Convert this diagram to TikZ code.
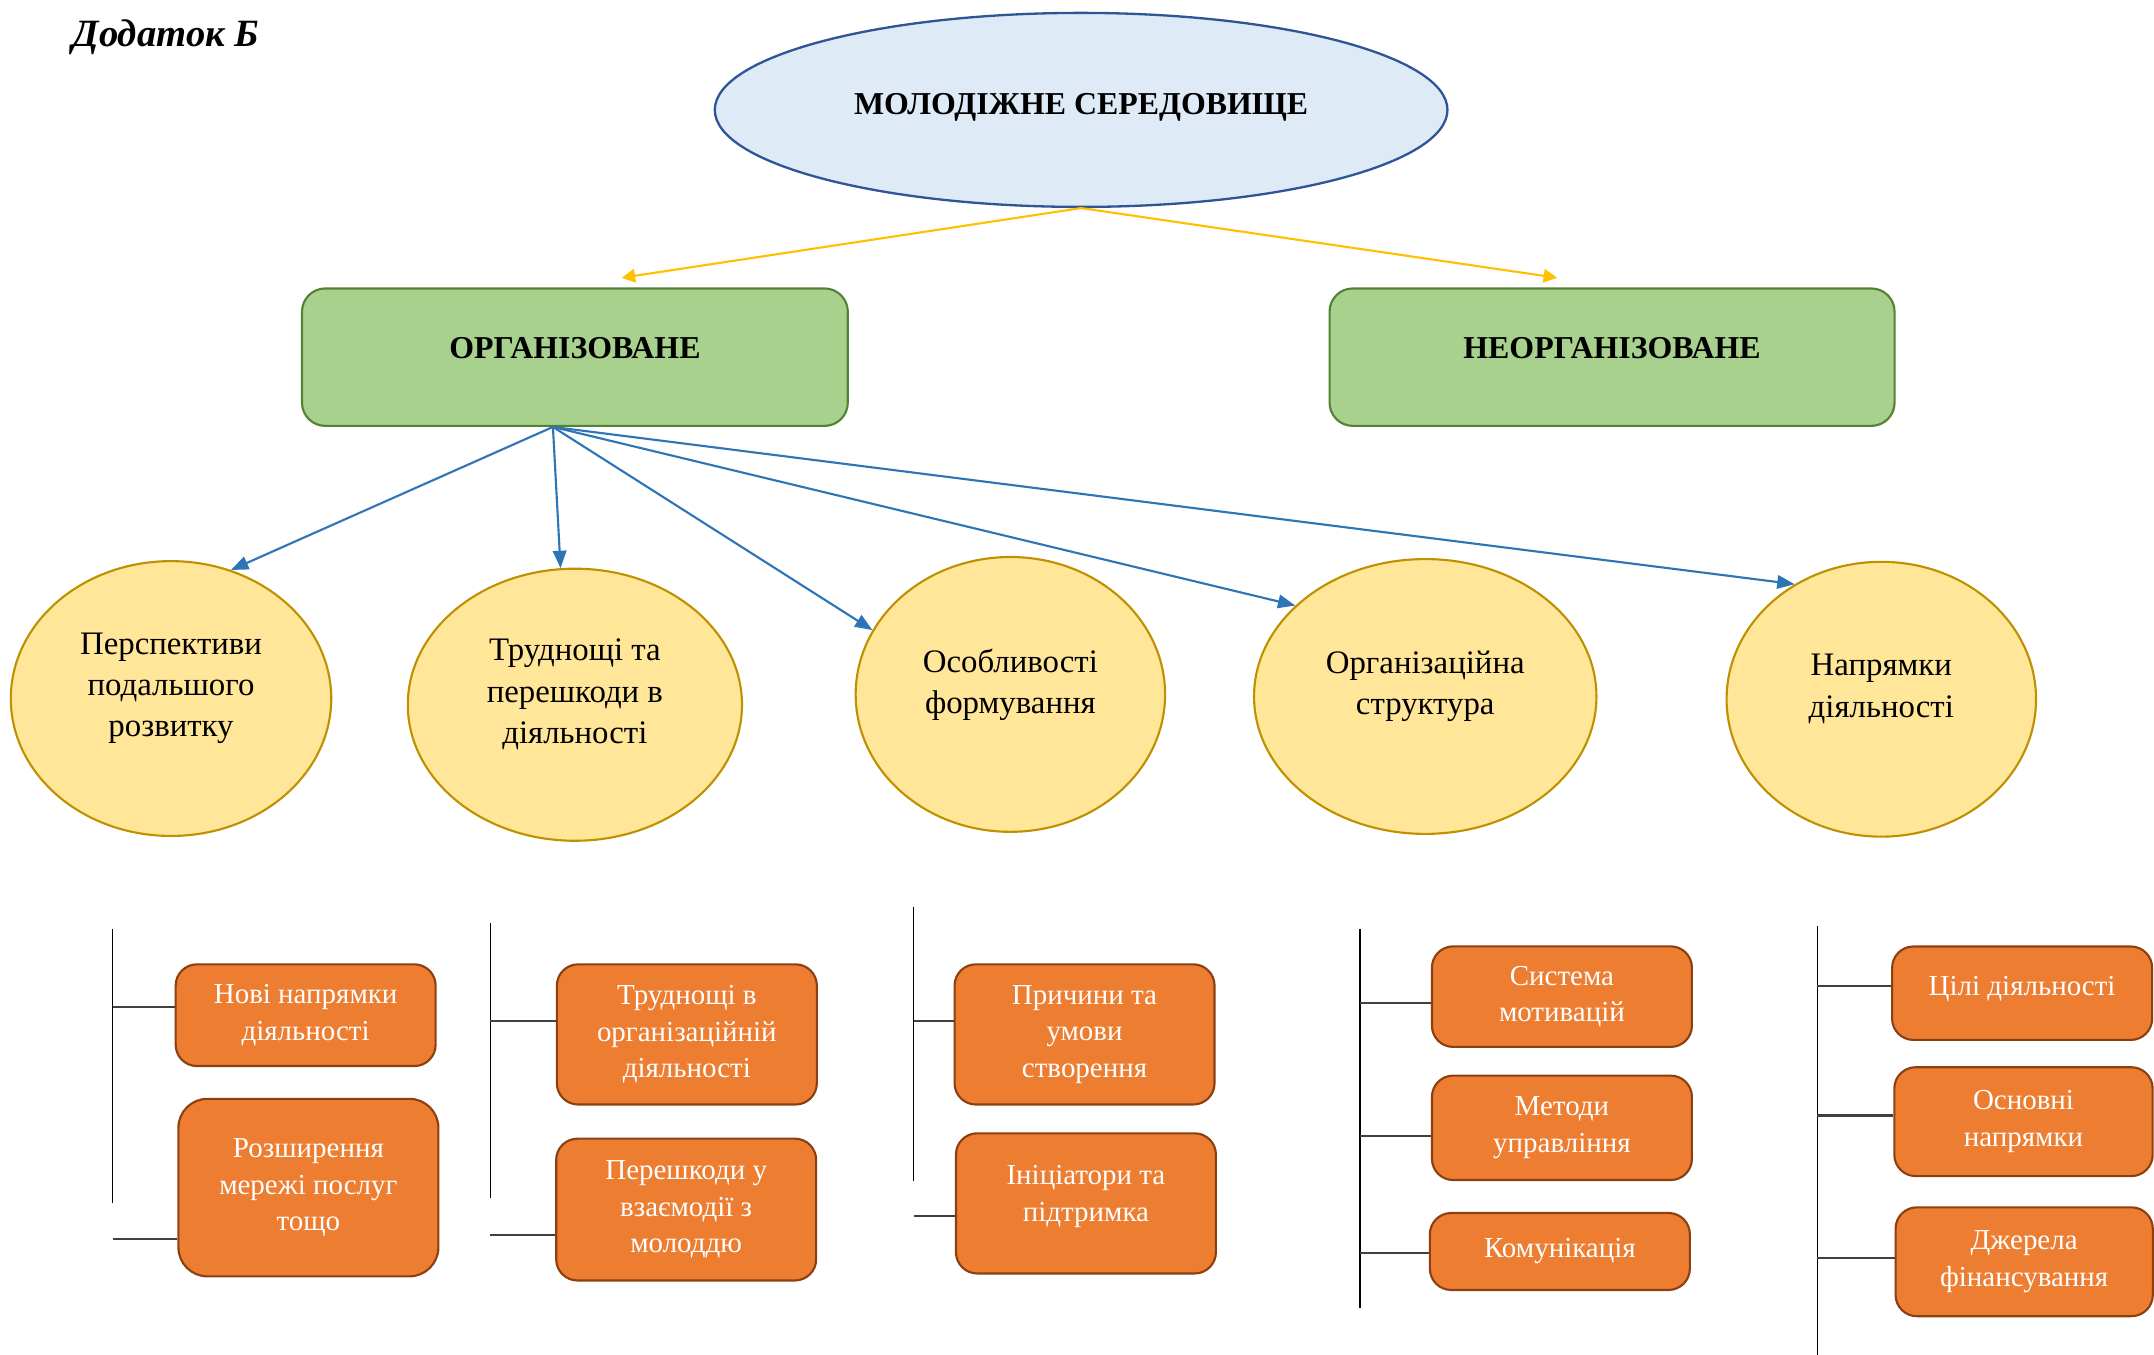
\documentclass[tikz,border=0pt]{standalone}
\usepackage{fontspec}
\setmainfont{Liberation Serif}
\usepackage{tikz}
\usetikzlibrary{shapes,arrows.meta,positioning,calc}
\usepackage{xcolor}
\definecolor{paleblue}{RGB}{222,235,247}
\definecolor{darkblue}{RGB}{47,85,151}
\definecolor{leafgreen}{RGB}{169,209,142}
\definecolor{darkgreen}{RGB}{84,130,53}
\definecolor{sunyellow}{RGB}{255,192,0}
\definecolor{arrowblue}{RGB}{46,117,182}
\definecolor{paleyellow}{RGB}{255,230,153}
\definecolor{darkgold}{RGB}{191,144,0}
\definecolor{brightorange}{RGB}{237,125,49}
\definecolor{darkbrown}{RGB}{140,64,18}
\definecolor{linegray}{RGB}{64,64,64}

\tikzset{
    mainoval/.style={ellipse,draw=darkblue,line width=1.2pt,fill=paleblue,inner sep=0pt,text depth=6pt,
        minimum width=13.33cm,minimum height=3.53cm,font=\fontsize{16.5}{20}\selectfont\bfseries},
    groupbox/.style={rectangle,rounded corners=12pt,draw=darkgreen,line width=1.1pt,fill=leafgreen,
        text depth=10pt,minimum height=2.5cm,font=\fontsize{16.5}{20}\selectfont\bfseries},
    topicoval/.style={ellipse,draw=darkgold,line width=1.1pt,fill=paleyellow,inner sep=0pt,text depth=14pt,
        align=center,minimum height=5cm,font=\fontsize{17}{21.3}\selectfont},
    itembox/.style={rectangle,rounded corners=11pt,draw=darkbrown,line width=1.1pt,fill=brightorange,
        text=white,align=center,minimum width=4.73cm,font=\fontsize{15}{19}\selectfont},
    yarrow/.style={sunyellow,line width=1.1pt,-{Triangle[length=7pt,width=7pt]}},
    barrow/.style={arrowblue,line width=1.1pt,-{Triangle[length=9pt,width=7pt]}},
    stem/.style={black,line width=0.6pt},
    twig/.style={linegray,line width=1.1pt}
}

\begin{document}
\begin{tikzpicture}[x=0.025cm,y=-0.025cm]
    \useasboundingbox (0,0) rectangle (1568,986);

    % title
    \node[anchor=west,font=\fontsize{20}{24}\selectfont\bfseries\itshape] (title) at (48,27) {Додаток Б};

    % top level
    \node[mainoval] (env) at (787,80) {МОЛОДІЖНЕ СЕРЕДОВИЩЕ};
    \node[groupbox,minimum width=9.93cm] (org) at (418.5,260) {ОРГАНІЗОВАНЕ};
    \node[groupbox,minimum width=10.28cm] (unorg) at (1173.5,260) {НЕОРГАНІЗОВАНЕ};

    \draw[yarrow] (env.south) -- ($(org.north)+(34,-7)$);
    \draw[yarrow] (env.south) -- ($(unorg.north)+(-40,-7)$);

    % topics
    \node[topicoval,minimum width=5.83cm] (t1) at (124.5,508.5) {Перспективи\\подальшого\\розвитку};
    \node[topicoval,minimum width=6.08cm,minimum height=4.95cm] (t2) at (418.5,513) {Труднощі та\\перешкоди в\\діяльності};
    \node[topicoval,minimum width=5.63cm] (t3) at (735.5,505.5) {Особливості\\формування};
    \node[topicoval,minimum width=6.23cm] (t4) at (1037.5,507) {Організаційна\\структура};
    \node[topicoval,minimum width=5.63cm] (t5) at (1369.5,509) {Напрямки\\діяльності};

    \coordinate (orgfoot) at ($(org.south)+(-16,0)$);
    \draw[barrow] (orgfoot) -- (t1.65);
    \draw[barrow] (orgfoot) -- (t2.96);
    \draw[barrow] (orgfoot) -- (t3.155);
    \draw[barrow] (orgfoot) -- (t4.145);
    \draw[barrow] (orgfoot) -- (t5.127);

    % column 1
    \coordinate (v1top) at (82,676);
    \coordinate (v1bot) at (82,876);
    \node[itembox,minimum height=1.85cm] (b11) at (222.5,739) {Нові напрямки\\діяльності};
    \node[itembox,minimum height=3.23cm,rounded corners=15pt] (b12) at (224.5,864.5) {Розширення\\мережі послуг\\тощо};
    \coordinate (j11) at ($(b11.west)+(0,-6)$);
    \coordinate (j12) at ($(b12.west)+(0,37.5)$);
    \draw[stem] (v1top) -- (v1bot);
    \draw[twig] (j11) -- (j11 -| v1top);
    \draw[twig] (j12) -- (j12 -| v1top);

    % column 2
    \coordinate (v2top) at (357,672);
    \coordinate (v2bot) at (357,872);
    \node[itembox,minimum height=2.55cm] (b21) at (500,753) {Труднощі в\\організаційній\\діяльності};
    \node[itembox,minimum height=2.58cm] (b22) at (499.5,880.5) {Перешкоди у\\взаємодії з\\молоддю};
    \coordinate (j21) at ($(b21.west)+(0,-10)$);
    \coordinate (j22) at ($(b22.west)+(0,18.5)$);
    \draw[stem] (v2top) -- (v2bot);
    \draw[twig] (j21) -- (j21 -| v2top);
    \draw[twig] (j22) -- (j22 -| v2top);

    % column 3
    \coordinate (v3top) at (665,660);
    \coordinate (v3bot) at (665,860);
    \node[itembox,minimum height=2.55cm] (b31) at (789.5,753) {Причини та\\умови\\створення};
    \node[itembox,minimum height=2.55cm,text depth=10pt] (b32) at (790.5,876) {Ініціатори та\\підтримка};
    \coordinate (j31) at ($(b31.west)+(0,-10)$);
    \coordinate (j32) at ($(b32.west)+(0,9)$);
    \draw[stem] (v3top) -- (v3bot);
    \draw[twig] (j31) -- (j31 -| v3top);
    \draw[twig] (j32) -- (j32 -| v3top);

    % column 4
    \coordinate (v4top) at (990,676);
    \coordinate (v4bot) at (990,952);
    \node[itembox,minimum height=1.83cm] (b41) at (1137,725.5) {Система\\мотивацій};
    \node[itembox,minimum height=1.9cm] (b42) at (1137,821) {Методи\\управління};
    \node[itembox,minimum height=1.4cm] (b43) at (1135.5,911) {Комунікація};
    \coordinate (j41) at ($(b41.west)+(0,4.5)$);
    \coordinate (j42) at ($(b42.west)+(0,6)$);
    \coordinate (j43) at ($(b43.west)+(0,1)$);
    \draw[stem] (v4top) -- (v4bot);
    \draw[twig] (j41) -- (j41 -| v4top);
    \draw[twig] (j42) -- (j42 -| v4top);
    \draw[twig] (j43) -- (j43 -| v4top);

    % column 5
    \coordinate (v5top) at (1323,674);
    \coordinate (v5bot) at (1323,986);
    \node[itembox,minimum height=1.7cm,text depth=8pt] (b51) at (1472,723) {Цілі діяльності};
    \node[itembox,minimum height=1.98cm,minimum width=4.7cm] (b52) at (1473,816.5) {Основні\\напрямки};
    \node[itembox,minimum height=1.98cm,minimum width=4.68cm] (b53) at (1473.5,918.5) {Джерела\\фінансування};
    \coordinate (j51) at ($(b51.west)+(0,-5)$);
    \coordinate (j52) at ($(b52.west)+(0,-4.5)$);
    \coordinate (j53) at ($(b53.west)+(0,-2.5)$);
    \draw[stem] (v5top) -- (v5bot);
    \draw[twig] (j51) -- (j51 -| v5top);
    \draw[twig] (j52) -- (j52 -| v5top);
    \draw[twig] (j53) -- (j53 -| v5top);
\end{tikzpicture}
\end{document}
